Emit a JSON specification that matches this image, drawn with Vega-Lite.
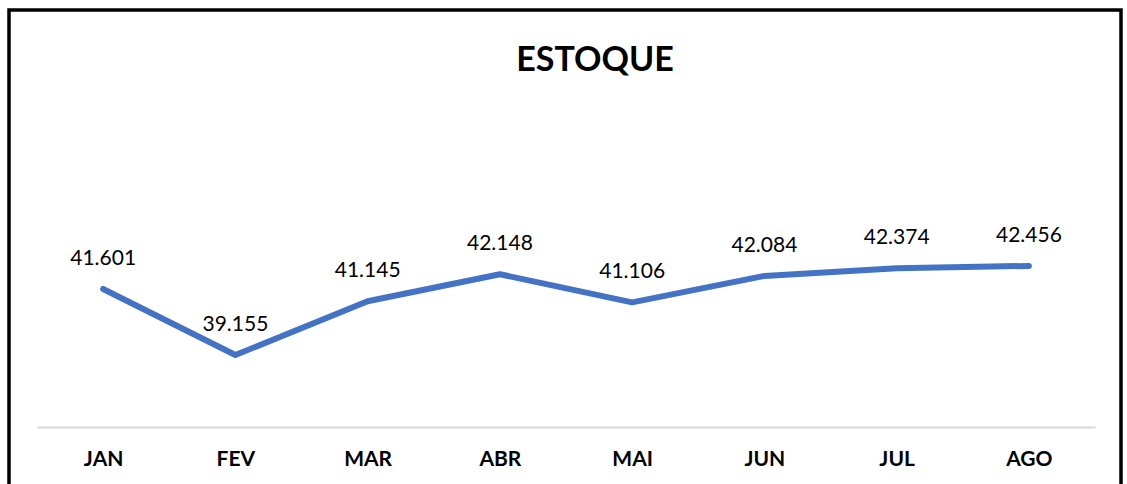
{
  "$schema": "https://vega.github.io/schema/vega-lite/v6.json",
  "autosize": "none",
  "padding": {"left": 9, "top": 10, "right": 6, "bottom": 0},
  "width": 1112,
  "height": 484,
  "background": "white",
  "config": {
    "locale": {"number": {"decimal": ",", "thousands": ".", "grouping": [3], "currency": ["R$", ""]}},
    "view": {"stroke": "black", "strokeWidth": 3.5},
    "font": "Lato"
  },
  "title": {
    "text": "ESTOQUE",
    "font": "Lato",
    "fontSize": 34,
    "fontWeight": "bold",
    "color": "black",
    "anchor": "middle",
    "baseline": "alphabetic",
    "offset": -95,
    "dx": 30
  },
  "data": {
    "values": [
      {"mes": "JAN", "estoque": 41601},
      {"mes": "FEV", "estoque": 39155},
      {"mes": "MAR", "estoque": 41145},
      {"mes": "ABR", "estoque": 42148},
      {"mes": "MAI", "estoque": 41106},
      {"mes": "JUN", "estoque": 42084},
      {"mes": "JUL", "estoque": 42374},
      {"mes": "AGO", "estoque": 42456}
    ]
  },
  "encoding": {
    "x": {
      "field": "mes",
      "type": "ordinal",
      "sort": null,
      "scale": {"type": "point", "range": [28, 1086], "padding": 0.5},
      "axis": {
        "title": null,
        "orient": "bottom",
        "offset": -67,
        "domainColor": "#D9D9D9",
        "domainWidth": 2,
        "ticks": false,
        "grid": false,
        "labelFont": "Lato",
        "labelFontSize": 21,
        "labelFontWeight": "bold",
        "labelColor": "black",
        "labelPadding": 21,
        "labelAngle": 0
      }
    },
    "y": {
      "field": "estoque",
      "type": "quantitative",
      "scale": {"domain": [34003, 51942], "nice": false, "zero": false},
      "axis": null
    }
  },
  "layer": [
    {
      "mark": {"type": "line", "color": "#4472C4", "strokeWidth": 6, "strokeCap": "round", "strokeJoin": "round"}
    },
    {
      "mark": {"type": "text", "dy": -24, "baseline": "alphabetic", "fontSize": 21, "font": "Lato", "color": "black"},
      "encoding": {"text": {"field": "estoque", "type": "quantitative", "format": ",d"}}
    }
  ]
}
